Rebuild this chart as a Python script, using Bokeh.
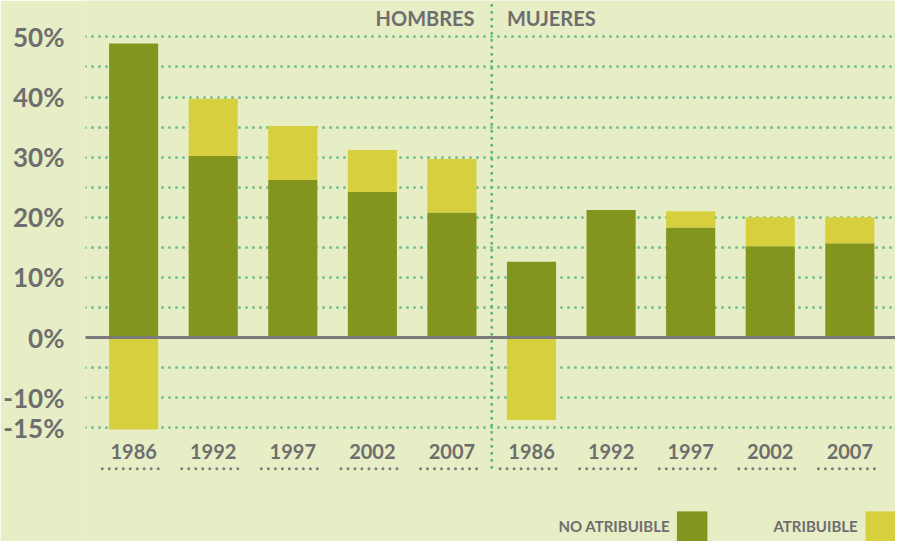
from bokeh.plotting import figure
from bokeh.models import FixedTicker, Span
from bokeh.core.properties import value
from bokeh.embed import file_html
from bokeh.resources import INLINE

# ---- data ----
years = ["1986", "1992", "1997", "2002", "2007"]
groups = ["HOMBRES", "MUJERES"]
hombres_no_atrib = [48.9, 30.2, 26.2, 24.2, 20.8]
hombres_atrib = [-15.3, 9.5, 9.0, 7.0, 8.9]
mujeres_no_atrib = [12.6, 21.2, 18.3, 15.2, 15.7]
mujeres_atrib = [-13.7, 0.0, 2.7, 4.8, 4.3]
y_ticks = [50, 45, 40, 35, 30, 25, 20, 15, 10, 5, 0, -5, -10, -15]
y_labels = ["50%", "", "40%", "", "30%", "", "20%", "", "10%", "", "0%", "", "-10%", "-15%"]
legend_labels = ["NO ATRIBUIBLE", "ATRIBUIBLE"]

# ---- style ----
BG = "#e7edc5"
GREEN = "#83951f"
YELLOW = "#d6d03f"
GRAY = "#6e6e6e"
DOT = "#72c093"
FONT = value("Lato")

W, H = 895, 541
REF_W, REF_H = 911, 557
SX, SY = W / REF_W, H / REF_H
REF_LEFT = 87          # frame left in reference px
REF_STEP = 81.0        # px per category (reference)
REF_PX_PER_PCT = 6.19  # px per percent (reference)
REF_ZERO = 347         # y of 0% (reference)

LEFT = int(round(REF_LEFT * SX))
x_start = -(136 - REF_LEFT) / REF_STEP
x_end = x_start + (W - LEFT) / (REF_STEP * SX)
y_end = REF_ZERO / REF_PX_PER_PCT
y_start = y_end - H / (REF_PX_PER_PCT * SY)


def xd(ref_x):
    return x_start + (ref_x - REF_LEFT) / REF_STEP


def yd(ref_y):
    return (REF_ZERO - ref_y) / REF_PX_PER_PCT


no_atrib = hombres_no_atrib + mujeres_no_atrib
atrib = hombres_atrib + mujeres_atrib
cats = list(range(len(no_atrib)))
cat_labels = years + years

y_bottom = [n if a > 0 else 0 for n, a in zip(no_atrib, atrib)]
y_top = [n + a if a > 0 else a for n, a in zip(no_atrib, atrib)]

p = figure(width=W, height=H, output_backend="svg", toolbar_location=None,
           x_range=(x_start, x_end), y_range=(y_start, y_end),
           x_axis_location=None, min_border_left=LEFT, min_border_right=0,
           min_border_top=0, min_border_bottom=0)
p.background_fill_color = BG
p.border_fill_color = BG
p.outline_line_color = None

# grid
p.xgrid.visible = False
p.yaxis.ticker = FixedTicker(ticks=y_ticks)
p.ygrid.ticker = FixedTicker(ticks=y_ticks)
p.ygrid.grid_line_color = DOT
p.ygrid.grid_line_width = 3
p.ygrid.grid_line_dash = "0 7"
p.ygrid.grid_line_cap = "round"

# y axis
yax = p.yaxis[0]
yax.axis_line_color = None
yax.major_tick_line_color = None
yax.minor_tick_line_color = None
yax.major_tick_out = 0
yax.major_label_standoff = 21
yax.major_label_overrides = {t: l for t, l in zip(y_ticks, y_labels)}
yax.major_label_text_font = "Lato"
yax.major_label_text_font_style = "bold"
yax.major_label_text_font_size = "26px"
yax.major_label_text_color = GRAY

# bars
bw = 50 / REF_STEP
p.vbar(x=cats, bottom=0, top=no_atrib, width=bw, color=GREEN, line_color=None)
p.vbar(x=cats, bottom=y_bottom, top=y_top, width=bw, color=YELLOW, line_color=None)

# zero line
p.add_layout(Span(location=0, dimension="width", line_color="#7a7a7a", line_width=3))

# divider
p.segment(x0=[4.5], y0=[yd(5)], x1=[4.5], y1=[yd(487)], line_color="#5fb389",
          line_width=3, line_dash="0 7", line_cap="round")

# group headers
p.text(x=[xd(483)], y=[yd(18)], text=[groups[0]], text_font=FONT, text_font_style="bold",
       text_font_size="20px", text_color=GRAY, text_align="right", text_baseline="middle")
p.text(x=[xd(516)], y=[yd(18)], text=[groups[1]], text_font=FONT, text_font_style="bold",
       text_font_size="20px", text_color=GRAY, text_align="left", text_baseline="middle")

# category labels
p.text(x=cats, y=[yd(464)] * len(cats), text=cat_labels, text_font=FONT, text_font_style="bold",
       text_font_size="20px", text_color=GRAY, text_align="center", text_baseline="middle")
half = 32 / REF_STEP
p.segment(x0=[c - half for c in cats], y0=[yd(482)] * len(cats),
          x1=[c + half for c in cats], y1=[yd(482)] * len(cats),
          line_color="#7d7d7d", line_width=3, line_dash="0 7", line_cap="round")

# legend
p.text(x=[xd(682), xd(873)], y=[yd(541)] * 2, text=legend_labels, text_font=FONT,
       text_font_style="bold", text_font_size="15px", text_color=GRAY,
       text_align="right", text_baseline="middle")
p.rect(x=[xd(704.5), xd(896.5)], y=[yd(542)] * 2, width=31 * SX, height=32 * SY,
       width_units="screen", height_units="screen", color=[GREEN, YELLOW], line_color=None)

open("out.html", "w").write(file_html(p, INLINE))
